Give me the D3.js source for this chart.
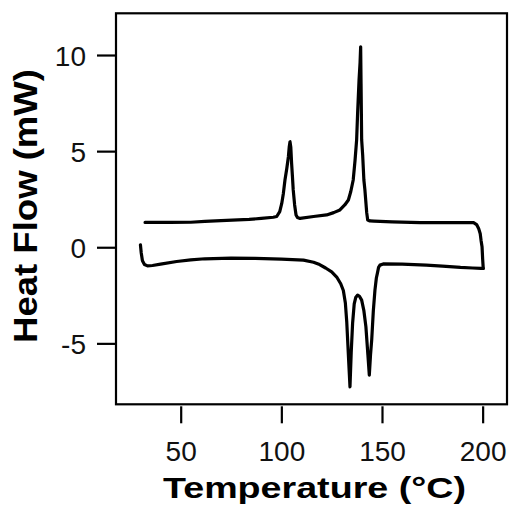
<!DOCTYPE html>
<html>
<head>
<meta charset="utf-8">
<script src="https://cdn.jsdelivr.net/npm/d3@7/dist/d3.min.js"></script>
<style>
  html, body { margin: 0; padding: 0; background: #fff; }
  svg { display: block; }
</style>
</head>
<body>
<svg id="chart" width="509" height="512"></svg>
<script>
// DSC thermogram: heat flow vs temperature, heating scan and cooling scan.

// Heating scan (30 -> 200 °C): [temperature °C, heat flow mW]
const heatingT = [30.0, 30.4, 31.0, 32.0, 33.5, 36, 40, 48, 55, 62, 75, 87, 100, 111, 116, 119, 122, 125, 127.5, 129.5,
  130.8, 131.8, 132.5, 133.3, 134.1, 134.7, 135.4, 136.2, 137.0, 137.9, 138.8, 139.9, 141.0, 142.0, 143.0, 143.7,
  144.3, 144.9, 145.7, 146.5, 147.2, 147.7, 148.3, 149.0, 150.6, 160, 172, 180, 189, 195, 199.2, 200.3];
const heatingHF = [0.12, -0.3, -0.7, -0.9, -0.97, -0.95, -0.88, -0.74, -0.66, -0.6, -0.57, -0.58, -0.62, -0.67, -0.78, -0.9, -1.08, -1.28, -1.55, -1.9,
  -2.25, -2.9, -3.9, -5.6, -7.26, -5.5, -3.95, -2.95, -2.6, -2.49, -2.55, -2.75, -3.3, -4.13, -5.6, -6.65,
  -5.6, -4.8, -3.3, -2.23, -1.6, -1.36, -1.05, -0.93, -0.87, -0.88, -0.93, -0.98, -1.05, -1.08, -1.1, -1.1];

// Cooling scan (200 -> 32 °C)
const coolingT = [200.3, 200.0, 199.7, 199.2, 198.8, 198.0, 197.0, 195.5, 185, 169, 155, 146, 144, 142.9, 142.4, 141.5,
  141.0, 140.4, 139.9, 139.6, 139.4, 139.1, 138.6, 137.9, 137.4, 136.6, 135.7, 134.5, 133.3, 131.5, 129.1, 126,
  122.5, 116, 109.3, 108, 107.3, 106.6, 105.9, 105.5, 105.1, 104.7, 104.3, 103.9, 103.5, 102.7, 101.8, 101.0,
  100.2, 99.2, 97.7, 96, 90, 84, 70, 62, 55, 45, 32.3];
const coolingHF = [-1.1, -0.6, 0.03, 0.37, 0.7, 0.98, 1.18, 1.28, 1.28, 1.28, 1.32, 1.36, 1.37, 1.42, 1.8, 3.0,
  3.5, 4.8, 5.58, 8.5, 10.43, 9.6, 8.7, 7.0, 5.58, 4.5, 3.5, 2.9, 2.46, 2.2, 1.94, 1.8,
  1.68, 1.6, 1.5, 1.55, 1.68, 2.2, 2.98, 3.7, 4.36, 5.2, 5.49, 5.2, 4.71, 4.1, 3.5, 2.8,
  2.28, 1.85, 1.6, 1.56, 1.5, 1.45, 1.38, 1.35, 1.3, 1.29, 1.29];

const xTicks = [50, 100, 150, 200];
const yTicks = [-5, 0, 5, 10];
const xTitle = "Temperature (°C)";
const yTitle = "Heat Flow (mW)";

const plot = { left: 116, top: 13.3, right: 507, bottom: 404.3 };

const x = d3.scaleLinear().domain([17.86, 212.1]).range([plot.left, plot.right]);
const y = d3.scaleLinear().domain([-8.17, 12.17]).range([plot.bottom, plot.top]);

const svg = d3.select("#chart");
const font = "'Liberation Sans', Arial, sans-serif";
const plain = d => String(d);   // ASCII hyphen for negatives

// Plot frame
svg.append("rect")
  .attr("x", plot.left).attr("y", plot.top)
  .attr("width", plot.right - plot.left).attr("height", plot.bottom - plot.top)
  .attr("fill", "none").attr("stroke", "#000").attr("stroke-width", 2.2);

// Y axis
const yAxis = svg.append("g")
  .attr("transform", `translate(${plot.left},0)`)
  .call(d3.axisLeft(y).tickValues(yTicks).tickSize(19).tickPadding(11).tickFormat(plain));
yAxis.select(".domain").remove();
yAxis.selectAll(".tick line").attr("stroke", "#000").attr("stroke-width", 2.2);
yAxis.selectAll(".tick text")
  .attr("font-family", font).attr("font-size", 28).attr("fill", "#111")
  .attr("dy", "0.36em");

// X axis (ticks offset slightly below the frame)
const xAxis = svg.append("g")
  .attr("transform", `translate(0,${plot.bottom + 2})`)
  .call(d3.axisBottom(x).tickValues(xTicks).tickSize(17).tickFormat(plain));
xAxis.select(".domain").remove();
xAxis.selectAll(".tick line").attr("stroke", "#000").attr("stroke-width", 2.2);
xAxis.selectAll(".tick text")
  .attr("font-family", font).attr("font-size", 28).attr("fill", "#111")
  .attr("y", 55).attr("dy", 0);

// Axis titles
svg.append("text")
  .attr("x", 314.5).attr("y", 498)
  .attr("text-anchor", "middle")
  .attr("font-family", font).attr("font-weight", "bold").attr("font-size", 30)
  .attr("textLength", 303).attr("lengthAdjust", "spacingAndGlyphs")
  .attr("fill", "#000")
  .text(xTitle);

svg.append("text")
  .attr("transform", "translate(37,206) rotate(-90)")
  .attr("text-anchor", "middle")
  .attr("font-family", font).attr("font-weight", "bold").attr("font-size", 32.5)
  .attr("textLength", 274).attr("lengthAdjust", "spacingAndGlyphs")
  .attr("fill", "#000")
  .text(yTitle);

// Curves
const line = d3.line().x(d => x(d[0])).y(d => y(d[1]));
const heating = heatingT.map((t, i) => [t, heatingHF[i]]);
const cooling = coolingT.map((t, i) => [t, coolingHF[i]]);

[heating, cooling].forEach(series => {
  svg.append("path")
    .datum(series)
    .attr("d", line)
    .attr("fill", "none")
    .attr("stroke", "#000")
    .attr("stroke-width", 3.2)
    .attr("stroke-linejoin", "round")
    .attr("stroke-linecap", "round");
});
</script>
</body>
</html>
